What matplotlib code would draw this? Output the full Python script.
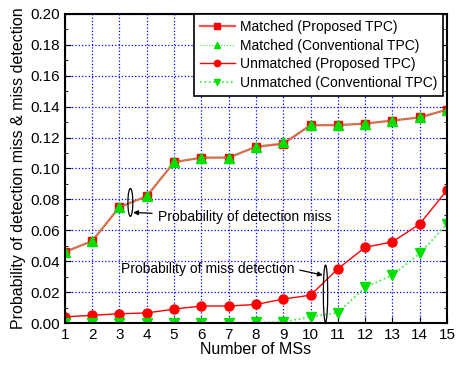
import numpy as np
import matplotlib.pyplot as plt
from matplotlib.patches import Ellipse
from matplotlib.ticker import MultipleLocator

plt.rcParams['font.family'] = ['Liberation Sans', 'DejaVu Sans']

ms = np.arange(1, 16)
matched_prop = [0.046, 0.053, 0.075, 0.082, 0.104, 0.107, 0.107, 0.114, 0.116, 0.128, 0.128, 0.129, 0.131, 0.133, 0.138]
matched_conv = [0.046, 0.053, 0.075, 0.082, 0.104, 0.107, 0.107, 0.114, 0.117, 0.128, 0.128, 0.129, 0.131, 0.133, 0.138]
unmatched_prop = [0.004, 0.005, 0.006, 0.0065, 0.009, 0.011, 0.011, 0.012, 0.0155, 0.018, 0.035, 0.049, 0.0525, 0.064, 0.086]
unmatched_conv = [0.0, 0.0, 0.0, 0.0, 0.0, 0.0, 0.0, 0.0004, 0.0007, 0.004, 0.0067, 0.023, 0.031, 0.045, 0.064]

fig = plt.figure(figsize=(4.7, 3.65), dpi=100)
ax = fig.add_axes([0.138, 0.115, 0.813, 0.847])

ax.plot(ms, matched_prop, '-', color='#ff5050', marker='s', mfc='red', mec='red', ms=6, lw=1.6,
        label='Matched (Proposed TPC)')
ax.plot(ms, matched_conv, ':', color='#33ee33', marker='^', mfc='#00e000', mec='#00e000', ms=7, lw=0.8,
        label='Matched (Conventional TPC)')
ax.plot(ms, unmatched_prop, '-', color='red', marker='o', mfc='red', mec='red', ms=6.5, lw=1,
        label='Unmatched (Proposed TPC)')
ax.plot(ms, unmatched_conv, ':', color='#33ee33', marker='v', mfc='#00e000', mec='#00e000', ms=7, lw=1.2,
        label='Unmatched (Conventional TPC)')

ax.set_xlim(1, 15)
ax.set_ylim(0, 0.20)
ax.set_xticks(ms)
ax.yaxis.set_major_locator(MultipleLocator(0.02))
ax.yaxis.set_minor_locator(MultipleLocator(0.01))
ax.yaxis.set_major_formatter(plt.FormatStrFormatter('%.2f'))
ax.tick_params(which='both', direction='in', right=True, top=False, labelsize=11)
ax.tick_params(which='major', length=4)
ax.tick_params(which='minor', length=2)
ax.grid(True, color='blue', linestyle=':', linewidth=0.9)
for s in ax.spines.values():
    s.set_linewidth(1.5)

ax.set_xlabel('Number of MSs', fontsize=11.5, labelpad=0)
ax.set_ylabel('Probability of detection miss & miss detection', fontsize=11.5, labelpad=3)

leg = ax.legend(loc='upper right', bbox_to_anchor=(0.99, 1.0), fontsize=10, frameon=True,
                fancybox=False, framealpha=1, edgecolor='black', borderaxespad=0,
                handlelength=2.5, labelspacing=0.33, markerscale=0.7,
                borderpad=0.45, handletextpad=0.35)
leg.get_frame().set_linewidth(1.2)

ax.add_patch(Ellipse((3.4, 0.078), 0.18, 0.018, fill=False, ec='black', lw=0.9, zorder=5))
ax.annotate('Probability of detection miss', xy=(3.5, 0.0715), xytext=(4.4, 0.0685),
            fontsize=10, va='center', ha='left',
            arrowprops=dict(arrowstyle='-|>', color='black', lw=0.9, mutation_scale=7, shrinkB=0))

ax.add_patch(Ellipse((10.55, 0.019), 0.16, 0.037, fill=False, ec='black', lw=0.9, zorder=5))
ax.annotate('Probability of miss detection', xy=(10.45, 0.031), xytext=(3.05, 0.035),
            fontsize=10, va='center', ha='left',
            arrowprops=dict(arrowstyle='-|>', color='black', lw=0.9, mutation_scale=7, shrinkB=0,
                            relpos=(1.0, 0.5)))

fig.savefig('out.png', dpi=100)
